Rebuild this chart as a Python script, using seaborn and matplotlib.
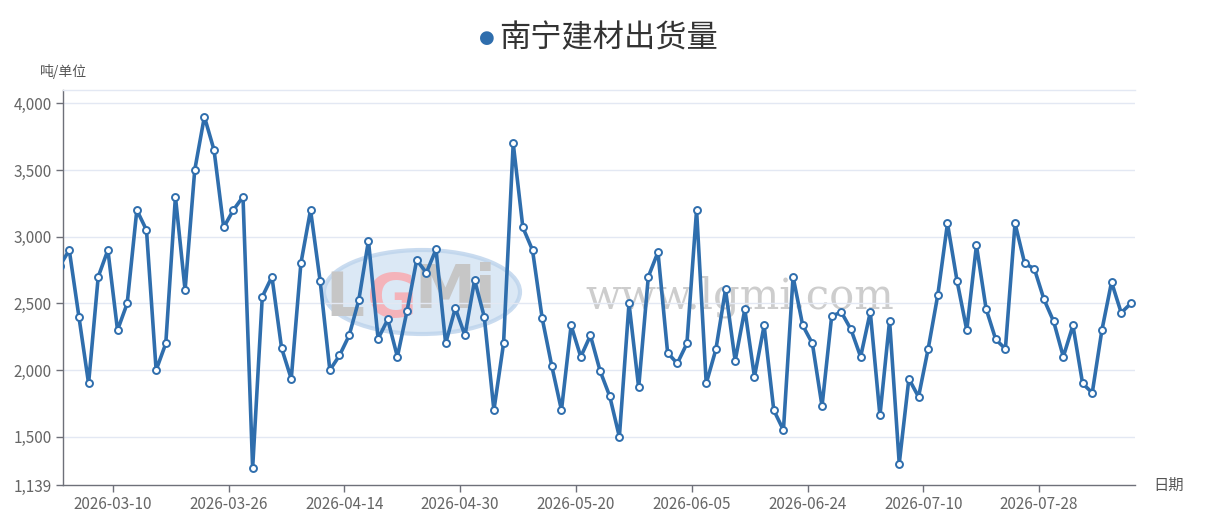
import matplotlib
matplotlib.use("Agg")
import matplotlib.pyplot as plt
import numpy as np
import pandas as pd
import seaborn as sns
from matplotlib.patches import Ellipse

# data (first value sits just left of the visible window)
values = [
    2780, 2900, 2400, 1900, 2700, 2900, 2300, 2500, 3200, 3050, 2000,
    2200, 3300, 2600, 3500, 3900, 3650, 3070, 3200, 3300, 1265,
    2550, 2700, 2165, 1935, 2800, 3200, 2665, 2000, 2110, 2260,
    2525, 2970, 2235, 2380, 2100, 2445, 2825, 2730, 2905, 2200,
    2465, 2260, 2675, 2400, 1700, 2200, 3700, 3070, 2900, 2390,
    2030, 1700, 2335, 2100, 2260, 1995, 1805, 1500, 2500, 1870,
    2700, 2885, 2130, 2050, 2200, 3200, 1900, 2155, 2605, 2070,
    2455, 1950, 2335, 1700, 1550, 2700, 2335, 2200, 1730, 2405,
    2435, 2305, 2100, 2435, 1660, 2370, 1300, 1935, 1800, 2160,
    2565, 3100, 2665, 2300, 2935, 2460, 2230, 2160, 3100, 2800,
    2760, 2530, 2365, 2100, 2335, 1900, 1830, 2300, 2660, 2430,
    2500,
]
tick_labels = [
    "2026-03-10", "2026-03-26", "2026-04-14", "2026-04-30", "2026-05-20",
    "2026-06-05", "2026-06-24", "2026-07-10", "2026-07-28",
]
y_ticks = [1139, 1500, 2000, 2500, 3000, 3500, 4000]
y_min, y_max = 1139, 4100

df = pd.DataFrame({"idx": np.arange(len(values)), "value": values})

line_color = "#2f6ead"
grid_color = "#e3e8f3"
axis_color = "#6e7079"
text_color = "#666666"

sns.set_theme(style="white")
plt.rcParams["font.family"] = ["Noto Sans CJK SC", "DejaVu Sans"]

fig = plt.figure(figsize=(12.05, 5.11), dpi=100)
ax = fig.add_axes([63 / 1205, 26 / 511, (1135 - 63) / 1205, (485 - 90) / 511])

# watermark
ax_wm = fig.add_axes([0, 0, 1, 1], zorder=0)
ax_wm.set_xlim(0, 1205)
ax_wm.set_ylim(511, 0)
ax_wm.axis("off")
ax_wm.add_patch(Ellipse((422, 292), 196, 84, facecolor="#d3e3f3", edgecolor="#bcd3ec", lw=3, alpha=0.8))
ax_wm.text(345, 300, "L", fontsize=44, color="#c6c6c6", ha="center", va="center", family="DejaVu Sans", weight="bold")
ax_wm.text(392, 300, "G", fontsize=44, color="#f4b3ba", ha="center", va="center", family="DejaVu Sans", weight="bold")
ax_wm.text(455, 292, "Mi", fontsize=44, color="#c6c6c6", ha="center", va="center", family="DejaVu Sans", weight="bold")
ax_wm.text(740, 297, "www.lgmi.com", fontsize=30, color="#cdcdcd", ha="center", va="center", family="DejaVu Serif")

ax.set_zorder(1)
ax.patch.set_alpha(0)

sns.lineplot(
    data=df, x="idx", y="value", ax=ax, color=line_color, linewidth=2.6,
    marker="o", markersize=5, markerfacecolor="white",
    markeredgecolor=line_color, markeredgewidth=1.4, zorder=3,
)

ax.set_xlim(0.35, 111.43)
ax.set_ylim(y_min, y_max)

ax.set_yticks(y_ticks)
ax.set_yticklabels([f"{v:,}" for v in y_ticks])
ax.set_xticks([5.5 + 12 * k for k in range(len(tick_labels))])
ax.set_xticklabels(tick_labels)

for v in y_ticks[1:]:
    ax.axhline(v, color=grid_color, lw=1, zorder=0)

ax.tick_params(axis="both", colors=axis_color, labelcolor=text_color, labelsize=11,
               length=5, width=1, direction="out", pad=3)
ax.tick_params(axis="y", left=True)
ax.tick_params(axis="x", bottom=True)

for side in ["left", "bottom"]:
    ax.spines[side].set_color(axis_color)
    ax.spines[side].set_linewidth(1)
ax.spines["top"].set_color(grid_color)
ax.spines["top"].set_linewidth(1)
ax.spines["right"].set_visible(False)

ax.set_xlabel("")
ax.set_ylabel("")

fig.text(40 / 1205, 1 - 71 / 511, "吨/单位", fontsize=10, color="#555555", va="center", ha="left")
fig.text(1153 / 1205, 1 - 485 / 511, "日期", fontsize=11, color="#555555", va="center", ha="left")

fig.text(487 / 1205, 1 - 38 / 511, "●", fontsize=13, color=line_color, va="center", ha="center",
         family="DejaVu Sans")
fig.text(499 / 1205, 1 - 38 / 511, "南宁建材出货量", fontsize=22.5, color="#333333", va="center", ha="left")

fig.savefig("out.png", dpi=100)
plt.close(fig)
